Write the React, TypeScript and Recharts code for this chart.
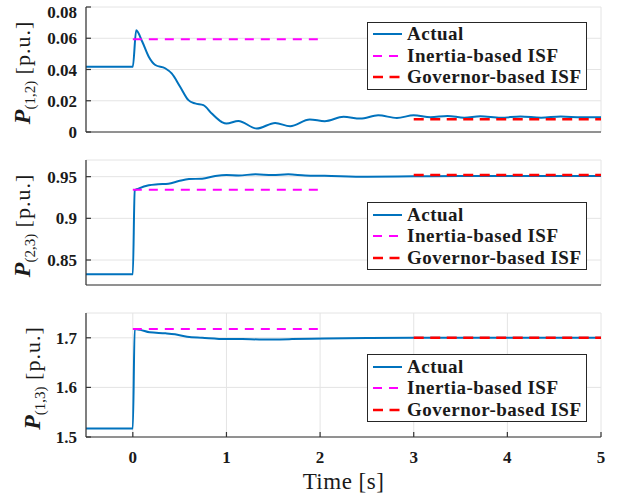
import React from "react";
import { LineChart, Line, XAxis, YAxis, CartesianGrid, Legend } from "recharts";

const FONT = '"Liberation Serif", "Times New Roman", serif';
const AXIS_COLOR = "#333333";
const TEXT_COLOR = "#1a1a1a";

const X_TICKS = [0, 1, 2, 3, 4, 5];
const X_DOMAIN = [-0.5, 5];

// P(1,2)
const TIME_12 = [-0.5, 0, 0.036, 0.1, 0.17, 0.24, 0.345, 0.415, 0.505, 0.594, 0.665, 0.754, 0.843, 0.95, 1.0, 1.127, 1.323, 1.52, 1.68, 1.89, 2.05, 2.25, 2.43, 2.62, 2.82, 3.0, 3.18, 3.36, 3.54, 3.71, 3.93, 4.14, 4.36, 4.57, 4.79, 5.0];
const ACTUAL_12 = [0.0418, 0.0418, 0.0652, 0.0579, 0.0482, 0.0429, 0.0408, 0.0375, 0.029, 0.0204, 0.0183, 0.0172, 0.0118, 0.0064, 0.0054, 0.0071, 0.0022, 0.0058, 0.0037, 0.008, 0.0069, 0.0097, 0.0086, 0.0107, 0.009, 0.0107, 0.0094, 0.0103, 0.0092, 0.0101, 0.0092, 0.0099, 0.0092, 0.0099, 0.0094, 0.0094];

// P(2,3)
const TIME_23 = [-0.5, 0, 0.02, 0.06, 0.17, 0.27, 0.38, 0.49, 0.6, 0.74, 0.88, 1.0, 1.13, 1.31, 1.49, 1.66, 1.84, 2.05, 2.5, 3.0, 3.5, 4.0, 4.5, 5.0];
const ACTUAL_23 = [0.8328, 0.8328, 0.9336, 0.9356, 0.9396, 0.9408, 0.9416, 0.9447, 0.9471, 0.9476, 0.9507, 0.9519, 0.9515, 0.9528, 0.9519, 0.9528, 0.9515, 0.9511, 0.95, 0.9504, 0.9508, 0.9508, 0.9508, 0.9508];

// P(1,3)
const TIME_13 = [-0.5, 0, 0.02, 0.08, 0.18, 0.35, 0.45, 0.58, 0.74, 1.0, 1.17, 1.35, 1.7, 2.05, 2.5, 3.0, 3.5, 4.0, 4.5, 5.0];
const ACTUAL_13 = [1.517, 1.517, 1.7175, 1.716, 1.711, 1.709, 1.707, 1.702, 1.7, 1.6974, 1.6974, 1.6967, 1.6974, 1.6987, 1.6995, 1.7, 1.7, 1.7, 1.7, 1.7];

// ISF estimates (constant levels over their windows)
const INERTIA_T = [0, 2];
const GOVERNOR_T = [3, 5];
const INERTIA_12 = [0.0594, 0.0594];
const GOVERNOR_12 = [0.0082, 0.0082];
const INERTIA_23 = [0.9344, 0.9344];
const GOVERNOR_23 = [0.952, 0.952];
const INERTIA_13 = [1.7175, 1.7175];
const GOVERNOR_13 = [1.7, 1.7];

const SERIES_NAMES = ["Actual", "Inertia-based ISF", "Governor-based ISF"];
const SERIES_COLORS = ["#0072BD", "#FF00FF", "#FF0000"];
const SERIES_DASH = [undefined, "9 7", "10 6.5"];
const SERIES_WIDTH = [2, 2, 2.5];

const toPoints = (ts: number[], vs: number[]) => ts.map((t, i) => ({ t, v: vs[i] }));

const YLabel = ({ bx, by, sub }: { bx: number; by: number; sub: string }) => (
  <text
    x={bx}
    y={by}
    transform={`rotate(-90, ${bx}, ${by})`}
    textAnchor="middle"
    fill={TEXT_COLOR}
    fontFamily={FONT}
    fontSize={22}
  >
    <tspan fontStyle="italic" fontWeight="bold" fontSize={24}>P</tspan>
    <tspan fontSize={15} dy={5}>{sub}</tspan>
    <tspan dy={-5} letterSpacing={1}>{" [p.u.]"}</tspan>
  </text>
);

const XLabel = ({ bx, by }: { bx: number; by: number }) => (
  <text x={bx} y={by} textAnchor="middle" fill={TEXT_COLOR} fontFamily={FONT} fontSize={23} letterSpacing={0.5}>
    Time [s]
  </text>
);

const LegendBox = () => (
  <div
    style={{
      width: 220,
      height: 68,
      boxSizing: "border-box",
      border: "1px solid #262626",
      background: "#fff",
      paddingTop: 1,
      fontFamily: FONT,
      fontWeight: "bold",
      fontSize: 19,
      letterSpacing: 0.5,
      color: TEXT_COLOR,
    }}
  >
    {SERIES_NAMES.map((name, i) => (
      <div key={name} style={{ height: 21.4, display: "flex", alignItems: "center" }}>
        <svg width={29} height={6} style={{ marginLeft: 5, marginRight: 5 }}>
          <line
            x1={0}
            y1={3}
            x2={29}
            y2={3}
            stroke={SERIES_COLORS[i]}
            strokeWidth={SERIES_WIDTH[i]}
            strokeDasharray={SERIES_DASH[i]}
          />
        </svg>
        <span style={{ whiteSpace: "nowrap" }}>{name}</span>
      </div>
    ))}
  </div>
);

interface PanelProps {
  top: number;
  plotH: number;
  actualT: number[];
  actual: number[];
  inertia: number[];
  governor: number[];
  domain: number[];
  yTicks: number[];
  sub: string;
  labelX: number;
  legendTop: number;
  showTime?: boolean;
}

const Panel = ({ top, plotH, actualT, actual, inertia, governor, domain, yTicks, sub, labelX, legendTop, showTime }: PanelProps) => {
  const xAxisH = showTime ? 60 : 30;
  const height = plotH + 5 + xAxisH;
  const tickStyle = { fill: TEXT_COLOR, fontFamily: FONT, fontWeight: "bold", fontSize: 17 };
  return (
    <div style={{ position: "absolute", left: 0, top: top - 5 }}>
      <LineChart width={618} height={height} margin={{ top: 5, right: 17, bottom: 0, left: 0 }}>
        <CartesianGrid stroke="#e4e4e4" strokeWidth={1} />
        <XAxis
          type="number"
          dataKey="t"
          domain={X_DOMAIN}
          ticks={X_TICKS}
          allowDataOverflow
          height={xAxisH}
          axisLine={{ stroke: AXIS_COLOR, strokeWidth: 1.2 }}
          tickLine={{ stroke: AXIS_COLOR, strokeWidth: 1.2 }}
          tickSize={-5}
          tickMargin={19}
          tick={showTime ? tickStyle : false}
          label={showTime ? <XLabel bx={343.5} by={plotH + 5 + 52} /> : undefined}
        />
        <XAxis
          xAxisId="top"
          orientation="top"
          type="number"
          domain={X_DOMAIN}
          ticks={X_TICKS}
          allowDataOverflow
          height={0}
          axisLine={{ stroke: AXIS_COLOR, strokeWidth: 1.2 }}
          tickLine={{ stroke: AXIS_COLOR, strokeWidth: 1.2 }}
          tickSize={-5}
          tick={false}
        />
        <YAxis
          type="number"
          domain={domain}
          ticks={yTicks}
          allowDataOverflow
          width={86}
          axisLine={{ stroke: AXIS_COLOR, strokeWidth: 1.2 }}
          tickLine={{ stroke: AXIS_COLOR, strokeWidth: 1.2 }}
          tickSize={-5}
          tickMargin={14}
          tick={tickStyle}
          label={<YLabel bx={labelX} by={5 + plotH / 2 + 3} sub={sub} />}
        />
        <YAxis
          yAxisId="right"
          orientation="right"
          type="number"
          domain={domain}
          ticks={yTicks}
          allowDataOverflow
          width={0}
          axisLine={{ stroke: AXIS_COLOR, strokeWidth: 1.2 }}
          tickLine={{ stroke: AXIS_COLOR, strokeWidth: 1.2 }}
          tickSize={-5}
          tick={false}
        />
        <Legend
          layout="vertical"
          align="center"
          verticalAlign="middle"
          content={() => <LegendBox />}
          wrapperStyle={{ left: 367, top: legendTop, width: 220, height: 68 }}
        />
        <Line
          name={SERIES_NAMES[0]}
          data={toPoints(actualT, actual)}
          dataKey="v"
          type="monotone"
          stroke={SERIES_COLORS[0]}
          strokeWidth={SERIES_WIDTH[0]}
          dot={false}
          isAnimationActive={false}
        />
        <Line
          name={SERIES_NAMES[1]}
          data={toPoints(INERTIA_T, inertia)}
          dataKey="v"
          type="linear"
          stroke={SERIES_COLORS[1]}
          strokeWidth={SERIES_WIDTH[1]}
          strokeDasharray={SERIES_DASH[1]}
          dot={false}
          isAnimationActive={false}
        />
        <Line
          name={SERIES_NAMES[2]}
          data={toPoints(GOVERNOR_T, governor)}
          dataKey="v"
          type="linear"
          stroke={SERIES_COLORS[2]}
          strokeWidth={SERIES_WIDTH[2]}
          strokeDasharray={SERIES_DASH[2]}
          dot={false}
          isAnimationActive={false}
        />
      </LineChart>
    </div>
  );
};

export default function App() {
  return (
    <div style={{ position: "absolute", left: 0, top: 0, width: 618, height: 495, background: "#fff" }}>
      <Panel
        top={7}
        plotH={125}
        actualT={TIME_12}
        actual={ACTUAL_12}
        inertia={INERTIA_12}
        governor={GOVERNOR_12}
        domain={[0, 0.08]}
        yTicks={[0, 0.02, 0.04, 0.06, 0.08]}
        sub="(1,2)"
        labelX={30}
        legendTop={19.7}
      />
      <Panel
        top={160}
        plotH={125}
        actualT={TIME_23}
        actual={ACTUAL_23}
        inertia={INERTIA_23}
        governor={GOVERNOR_23}
        domain={[0.82, 0.97]}
        yTicks={[0.85, 0.9, 0.95]}
        sub="(2,3)"
        labelX={30}
        legendTop={47.3}
      />
      <Panel
        top={313}
        plotH={124}
        actualT={TIME_13}
        actual={ACTUAL_13}
        inertia={INERTIA_13}
        governor={GOVERNOR_13}
        domain={[1.5, 1.75]}
        yTicks={[1.5, 1.6, 1.7]}
        sub="(1,3)"
        labelX={40}
        legendTop={46.3}
        showTime
      />
    </div>
  );
}
